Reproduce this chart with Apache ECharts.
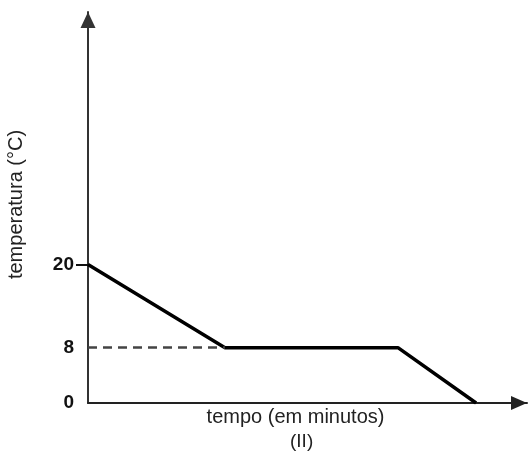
<!DOCTYPE html>
<html>
<head>
<meta charset="utf-8">
<script src="https://cdn.jsdelivr.net/npm/echarts@6/dist/echarts.min.js"></script>
<style>
  html, body { margin: 0; padding: 0; background: #fff; }
  #chart { width: 530px; height: 459px; }
</style>
</head>
<body>
<div id="chart"></div>
<script>
// tempo (unidade arbitraria, eixo sem marcas) e temperatura em °C
var timeValues = [0, 31.2, 70.6, 88.4]
var tempValues = [20, 8, 8, 0]
var yTickLabels = [0, 8, 20]
var dashedLevel = 8

var chart = echarts.init(document.getElementById('chart'))

var points = timeValues.map(function (t, i) { return [t, tempValues[i]] })

var option = {
  backgroundColor: '#fff',
  animation: false,
  grid: { left: 88, right: 3, top: 12, bottom: 56, outerBoundsMode: 'none', containLabel: false },
  title: {
    text: '(II)',
    left: 285,
    top: 427,
    textStyle: { fontFamily: 'Liberation Sans', fontWeight: 'normal', fontSize: 19, color: '#222' }
  },
  xAxis: {
    type: 'value',
    min: 0,
    max: 100,
    name: 'tempo (em minutos)',
    nameLocation: 'middle',
    nameGap: 4,
    nameTextStyle: { fontFamily: 'Liberation Sans', fontSize: 20, color: '#222', padding: [0, 24, 0, 0] },
    axisLine: {
      show: true,
      lineStyle: { color: '#222', width: 2 },
      symbol: ['none', 'triangle'],
      symbolSize: [14, 16],
      symbolOffset: [0, -8]
    },
    axisTick: { show: false },
    axisLabel: { show: false },
    splitLine: { show: false }
  },
  yAxis: {
    type: 'value',
    min: 0,
    max: 56.5,
    name: 'temperatura (°C)',
    nameLocation: 'middle',
    nameGap: 62,
    nameTextStyle: { fontFamily: 'Liberation Sans', fontSize: 20, color: '#222', padding: [0, 0, 0, 6] },
    axisLine: {
      show: true,
      lineStyle: { color: '#333', width: 2 },
      symbol: ['none', 'triangle'],
      symbolSize: [15, 16],
      symbolOffset: [0, -8]
    },
    axisTick: {
      show: true,
      customValues: [20],
      length: 12,
      lineStyle: { color: '#111', width: 2 }
    },
    axisLabel: {
      customValues: yTickLabels,
      margin: 14,
      fontFamily: 'Liberation Sans',
      fontWeight: 'bold',
      fontSize: 19,
      color: '#111'
    },
    splitLine: { show: false }
  },
  series: [{
    type: 'line',
    data: points,
    symbol: 'none',
    lineStyle: { color: '#000', width: 3.5 },
    markLine: {
      silent: true,
      symbol: 'none',
      label: { show: false },
      lineStyle: { color: '#444', width: 2.5, type: [9, 6] },
      data: [[{ coord: [0, dashedLevel] }, { coord: [timeValues[1], dashedLevel] }]]
    }
  }]
}

chart.setOption(option)
</script>
</body>
</html>
